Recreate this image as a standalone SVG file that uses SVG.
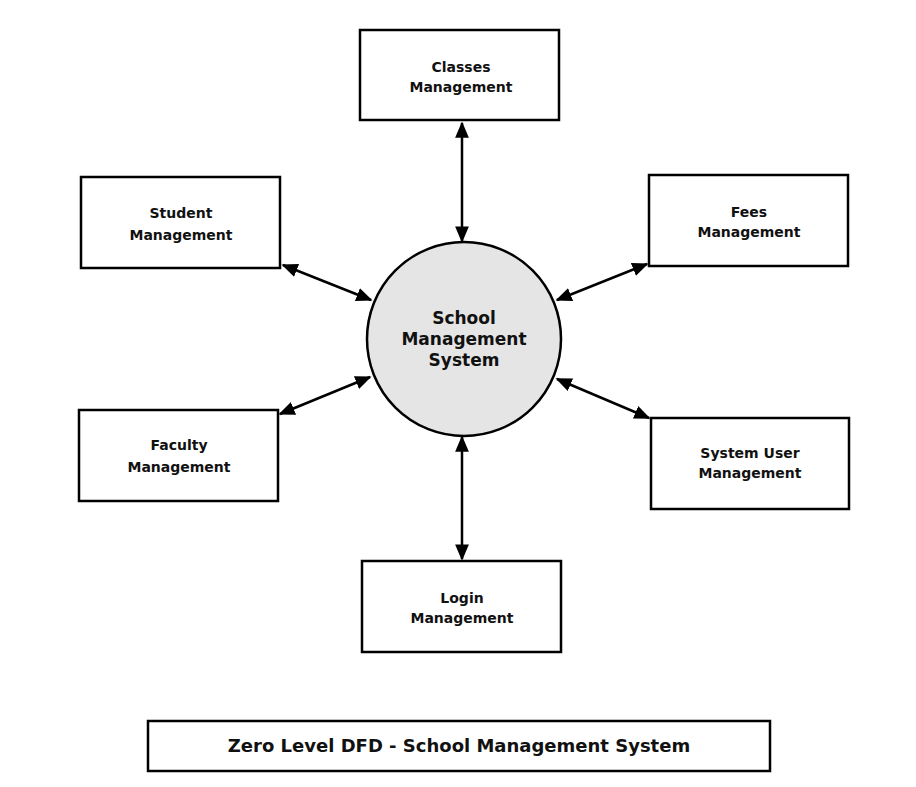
<svg xmlns="http://www.w3.org/2000/svg" width="916" height="787" viewBox="0 0 916 787">
<style>
.box{fill:#fff;stroke:#000;stroke-width:2.5}
.t{font-family:"DejaVu Sans",sans-serif;font-weight:bold;font-size:14px;text-anchor:middle;fill:#111}
.c{font-size:17px}
.ln{stroke:#000;stroke-width:2.5;fill:none;marker-start:url(#ah);marker-end:url(#ah)}
</style>
<defs>
<marker id="ah" viewBox="0 0 10 10" refX="9" refY="5" markerWidth="6.5" markerHeight="5.5" orient="auto-start-reverse" markerUnits="strokeWidth" preserveAspectRatio="none">
<path d="M0,0 L10,5 L0,10 z" fill="#000"/>
</marker>
</defs>
<rect width="916" height="787" fill="#fff"/>
<g id="connectors">
<line class="ln" x1="462" y1="123" x2="462" y2="241"/>
<line class="ln" x1="283" y1="265" x2="371" y2="300"/>
<line class="ln" x1="647" y1="264" x2="557" y2="300"/>
<line class="ln" x1="280" y1="414" x2="370" y2="377"/>
<line class="ln" x1="649" y1="418" x2="557" y2="379"/>
<line class="ln" x1="462" y1="437" x2="462" y2="559"/>
</g>
<g id="center">
<circle cx="464" cy="339" r="97" fill="#e5e5e5" stroke="#000" stroke-width="2.5"/>
<text class="t c" x="464" y="324">School</text>
<text class="t c" x="464" y="345">Management</text>
<text class="t c" x="464" y="366">System</text>
</g>
<g id="classes">
<rect class="box" x="360" y="30" width="199" height="90"/>
<text class="t" x="461" y="72">Classes</text>
<text class="t" x="461" y="92">Management</text>
</g>
<g id="student">
<rect class="box" x="81" y="177" width="199" height="91"/>
<text class="t" x="181" y="218">Student</text>
<text class="t" x="181" y="240">Management</text>
</g>
<g id="fees">
<rect class="box" x="649" y="175" width="199" height="91"/>
<text class="t" x="749" y="217">Fees</text>
<text class="t" x="749" y="237">Management</text>
</g>
<g id="faculty">
<rect class="box" x="79" y="410" width="199" height="91"/>
<text class="t" x="179" y="450">Faculty</text>
<text class="t" x="179" y="472">Management</text>
</g>
<g id="systemuser">
<rect class="box" x="651" y="418" width="198" height="91"/>
<text class="t" x="750" y="458">System User</text>
<text class="t" x="750" y="478">Management</text>
</g>
<g id="login">
<rect class="box" x="362" y="561" width="199" height="91"/>
<text class="t" x="462" y="603">Login</text>
<text class="t" x="462" y="623">Management</text>
</g>
<g id="title">
<rect class="box" x="148" y="721" width="622" height="50"/>
<text class="t" style="font-size:18px" x="459" y="752">Zero Level DFD - School Management System</text>
</g>
</svg>
